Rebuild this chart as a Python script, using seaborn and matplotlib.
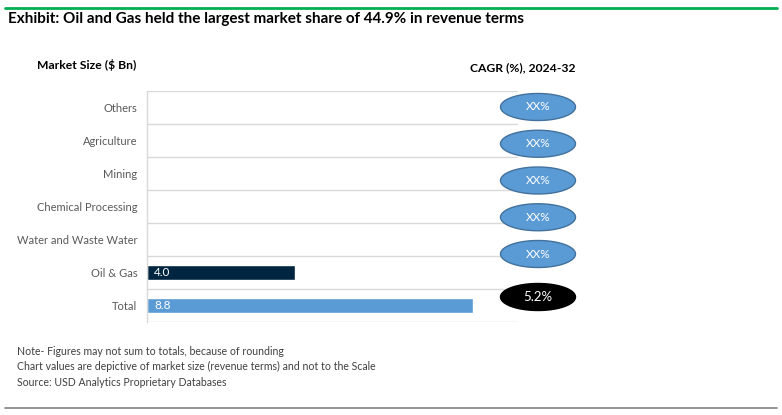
import matplotlib
matplotlib.use("Agg")
import matplotlib.pyplot as plt
from matplotlib.path import Path
from matplotlib.lines import Line2D
import seaborn as sns
import pandas as pd
import numpy as np

# ---- data ----
categories = ["Others", "Agriculture", "Mining", "Chemical Processing",
              "Water and Waste Water", "Oil & Gas", "Total"]
market_size = [np.nan, np.nan, np.nan, np.nan, np.nan, 4.0, 8.8]
bar_colors = ["#5B9BD5", "#5B9BD5", "#5B9BD5", "#5B9BD5", "#5B9BD5", "#002540", "#5B9BD5"]
cagr_labels = ["XX%", "XX%", "XX%", "XX%", "XX%", "5.2%"]
cagr_fill = ["#5B9BD5", "#5B9BD5", "#5B9BD5", "#5B9BD5", "#5B9BD5", "#000000"]
cagr_edge = ["#41719C", "#41719C", "#41719C", "#41719C", "#41719C", "#000000"]
title = "Exhibit: Oil and Gas held the largest market share of 44.9% in revenue terms"
notes = ["Note- Figures may not sum to totals, because of rounding",
         "Chart values are depictive of market size (revenue terms) and not to the Scale",
         "Source: USD Analytics Proprietary Databases"]

df = pd.DataFrame({"category": categories, "value": market_size})

sns.set_theme(style="white")
plt.rcParams['font.family'] = ['Lato', 'DejaVu Sans']

W, H = 782, 415
fig = plt.figure(figsize=(W / 100, H / 100), dpi=100)

def fx(px):
    return px / W

def fy(py):
    return 1 - py / H

# main bar axes: x 147..518, y 91..322
ax = fig.add_axes([fx(147), fy(322), fx(518) - fx(147), (322 - 91) / H])
sns.barplot(data=df, x="value", y="category", hue="category", palette=bar_colors,
            legend=False, width=0.48, ax=ax, saturation=1)
ax.set_xlim(0, 10)
ax.set_ylim(len(categories) - 0.5, -0.5)
ax.set_xlabel("")
ax.set_ylabel("")
ax.set_xticks([])
for s in ["top", "right", "bottom"]:
    ax.spines[s].set_visible(False)
ax.spines["left"].set_color("#D9D9D9")
ax.spines["left"].set_linewidth(1.0)
ax.hlines(np.arange(-0.5, len(categories)), 0, 10, color="#D9D9D9", lw=1.0, zorder=0)
ax.tick_params(axis="y", length=0, pad=7, labelsize=8, labelcolor="#595959")

for i, v in enumerate(market_size):
    if not np.isnan(v):
        ax.text(0.2, i, f"{v:.1f}", color="white", va="center", ha="left", fontsize=8.5)

# CAGR ellipses axes
ax2 = fig.add_axes([fx(500), fy(322), fx(576) - fx(500), (322 - 91) / H])
ax2.set_xlim(0, 1)
row_step = 36.75
y_top = -(107 - 91) / row_step
y_bot = y_top + (322 - 91) / row_step
ax2.set_ylim(y_bot, y_top)
ax2.axis("off")
cagr_pos = list(np.arange(5)) + [(297 - 107) / row_step]
theta = np.linspace(0, 2 * np.pi, 100)
ell = Path(np.column_stack([np.cos(theta), 0.36 * np.sin(theta)]), closed=True)
ax2.scatter([0.5] * len(cagr_labels), cagr_pos, marker=ell, s=(75 * 0.72) ** 2,
            c=cagr_fill, edgecolors=cagr_edge, linewidths=1.0, clip_on=False, zorder=3)
for p, lab in zip(cagr_pos, cagr_labels):
    ax2.text(0.5, p, lab, color="white", ha="center", va="center",
             fontsize=9.5 if lab != "XX%" else 8.5, zorder=4)

# texts
fig.add_artist(Line2D([fx(5), fx(777)], [fy(8), fy(8)], color="#00B050", lw=2))
fig.text(fx(8), fy(19), title, fontsize=11, fontweight="bold", color="black", va="center")
fig.text(fx(37), fy(65), "Market Size ($ Bn)", fontsize=8.7, fontweight="bold", color="black", va="center")
fig.text(fx(470), fy(68), "CAGR (%), 2024-32", fontsize=8.7, fontweight="bold", color="black", va="center")
for k, n in enumerate(notes):
    fig.text(fx(17), fy(351 + 15.5 * k), n, fontsize=7.6, color="#404040", va="center")
fig.add_artist(Line2D([fx(5), fx(777)], [fy(408), fy(408)], color="#808080", lw=1.2))

fig.savefig("out.png", dpi=100)
